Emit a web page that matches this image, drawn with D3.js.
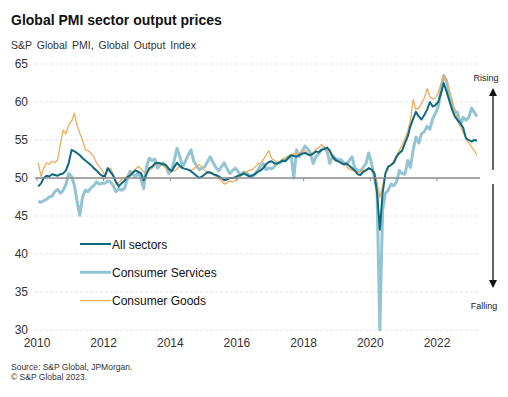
<!DOCTYPE html>
<meta charset="utf-8">
<style>
body { margin: 0; background: #fff; }
svg { font-family: "Liberation Sans", Arial, sans-serif; }
.grid line { stroke: #dcdcdc; stroke-width: 0.8; stroke-dasharray: 3,2; }
.tick-label { font-size: 12px; fill: #333; }
</style>
<body>
<svg width="508" height="397"></svg>
<script src="https://d3js.org/d3.v7.min.js"></script>
<script>
// monthly values, Jan 2010 - Mar 2023
var allSectors = [
  48.9, 49.3, 50.0, 50.3, 50.2, 50.5, 50.4, 50.3, 50.5, 50.6, 51.0, 52.0,
  53.7, 53.5, 53.3, 53.0, 52.6, 52.3, 52.0, 51.7, 51.3, 51.0, 50.6, 50.3,
  50.2, 51.3, 50.8, 50.3, 49.5, 48.9, 49.3, 49.6, 50.1, 50.3, 50.7, 51.0,
  50.8, 50.6, 49.7, 50.5, 51.3, 51.5, 51.9, 52.0, 51.9, 51.8, 51.7, 51.2,
  50.9, 51.5, 52.0, 51.6, 51.3, 51.2, 51.1, 50.9, 50.6, 50.3, 50.0, 50.2,
  50.5, 50.8, 50.7, 50.5, 50.4, 50.2, 50.0, 49.7, 49.8, 50.0, 50.0, 50.1,
  50.3, 50.4, 50.6, 50.4, 50.2, 50.3, 50.5, 50.8, 51.0, 51.3, 51.8, 52.1,
  52.2, 51.9, 51.9, 52.1, 52.3, 52.2, 52.6, 53.0, 52.9, 52.8, 53.0, 53.2,
  53.3, 53.1, 53.0, 53.2, 53.5, 53.4, 53.7, 53.8, 54.0, 53.6, 52.8, 52.4,
  52.2, 52.0, 51.8, 51.9, 51.6, 51.3, 51.0, 50.5, 50.4, 50.8, 51.0, 51.3,
  51.1, 50.6, 48.0, 43.2, 48.0, 50.6, 51.5, 51.7, 52.0, 52.8, 53.3, 53.6,
  54.6, 55.5, 56.8, 57.8, 58.7, 58.1, 57.7, 58.3, 59.0, 60.0, 59.4, 59.6,
  60.0, 61.2, 62.5, 61.4, 60.2, 59.0, 58.1, 57.6, 57.2, 56.6, 55.2, 55.0,
  54.8, 55.0, 54.9
];
var consumerServices = [
  46.9, 46.8, 47.0, 47.2, 47.5, 47.6, 48.2, 48.5, 48.0, 48.4, 49.2, 50.6,
  50.2, 49.0, 47.0, 45.1, 47.5, 48.4, 48.2, 48.7, 49.0, 49.5, 49.2, 49.3,
  49.3, 49.6, 49.5, 49.0, 48.2, 48.6, 48.4, 48.6, 49.8, 50.9, 50.5, 50.2,
  50.8, 49.8, 48.6, 51.5, 52.6, 52.3, 52.5, 51.3, 51.8, 52.0, 51.5, 50.6,
  51.0, 52.4, 53.9, 52.8, 51.5, 52.2, 53.0, 53.7, 52.2, 51.6, 51.1, 51.3,
  51.5, 52.2, 52.8, 52.0, 51.4, 50.9, 51.5, 52.0, 51.2, 50.6, 51.0, 51.3,
  50.8, 50.4, 50.8, 50.6, 50.4, 50.2, 50.5, 51.0, 51.6, 51.9, 51.1, 51.3,
  51.2, 51.5, 51.9, 52.0, 52.2, 52.5, 52.8, 53.0, 50.0, 53.7, 52.8, 53.5,
  54.2, 53.8, 53.3, 51.9, 52.8, 53.2, 53.7, 54.0, 53.5, 51.9, 52.9, 52.6,
  52.4, 52.4, 52.0, 51.8, 52.3, 52.8, 51.3, 51.0, 50.9, 51.4, 51.9, 53.3,
  51.9, 50.0, 48.4, 30.0, 45.8, 48.0, 48.4, 49.2, 49.0, 49.5, 51.0, 50.6,
  50.5, 52.3, 51.4, 53.7, 55.4, 54.6, 55.8, 56.1, 56.8, 56.4, 57.8, 58.5,
  59.4, 61.6, 63.5, 62.8, 61.0, 59.4, 58.8, 58.6, 57.0, 58.0, 57.6, 58.0,
  59.2, 58.6, 58.1
];
var consumerGoods = [
  52.0, 50.2, 51.3, 52.0, 51.8, 52.2, 52.0, 52.4, 54.5, 56.3, 55.8, 57.0,
  57.5, 58.5, 57.0, 55.9, 55.0, 53.7, 53.6, 53.3, 52.8, 52.0, 51.5, 51.0,
  50.4, 51.0, 51.3, 50.5, 49.1, 49.4, 49.8, 50.0, 50.2, 50.5, 50.9, 51.2,
  51.5, 51.2, 50.8, 50.6, 51.0, 51.3, 51.6, 52.0, 51.8, 51.6, 51.3, 51.0,
  51.0, 50.9, 51.2, 51.5, 51.3, 51.2, 51.1, 51.0, 51.2, 51.5, 51.8, 51.4,
  51.0, 50.6, 50.8, 50.6, 50.2, 50.0, 49.6, 49.2, 49.4, 49.6, 49.5, 49.7,
  50.0, 50.3, 50.7, 50.8, 51.0, 51.1, 51.4, 51.8, 52.0, 52.4, 53.0, 53.6,
  52.6, 52.3, 52.0, 52.2, 52.5, 52.6, 52.8, 53.0, 53.2, 53.1, 53.3, 53.6,
  53.6, 53.2, 53.0, 53.3, 53.8, 54.0, 54.4, 54.0, 53.7, 53.3, 52.6, 52.2,
  52.2, 52.0, 51.8, 51.5, 51.2, 51.0, 50.9, 50.7, 50.8, 51.0, 51.1, 51.2,
  51.2, 50.8, 49.5, 47.4, 49.0, 50.6, 51.3, 51.8, 52.3, 53.0, 53.7, 54.3,
  55.2, 56.2, 57.5, 60.3, 59.0, 59.2, 59.8, 60.5, 61.8, 60.7, 60.4, 60.5,
  61.2, 62.5, 63.5, 63.0, 61.6, 60.3, 59.0, 57.5, 56.8, 56.0, 55.2, 54.6,
  54.1, 53.6, 53.0
];
var yTicks = [30, 35, 40, 45, 50, 55, 60, 65];
var xTickYears = [2010, 2012, 2014, 2016, 2018, 2020, 2022];

var series = [
  { name: "Consumer Services", values: consumerServices, color: "#93c4d3", width: 3 },
  { name: "Consumer Goods", values: consumerGoods, color: "#efac5a", width: 1.3 },
  { name: "All sectors", values: allSectors, color: "#0f6a80", width: 2 }
];
var legendOrder = ["All sectors", "Consumer Services", "Consumer Goods"];

var svg = d3.select("svg");

var x = d3.scaleTime()
    .domain([new Date(2010, 0, 1), new Date(2022, 0, 1)])
    .range([37, 437]);
var y = d3.scaleLinear().domain([30, 65]).range([330, 64]);

var gridLeft = 35, gridRight = 480;

// title
svg.append("text").attr("x", 11).attr("y", 25)
    .style("font-size", "14px").style("font-weight", "bold").style("fill", "#111")
    .text("Global PMI sector output prices");
svg.append("text").attr("x", 11).attr("y", 49)
    .style("font-size", "10.5px").style("fill", "#333").style("word-spacing", "2px")
    .text("S&P Global PMI, Global Output Index");

// gridlines
svg.append("g").attr("class", "grid")
  .selectAll("line")
  .data(yTicks.filter(function(d) { return d !== 50; }))
  .enter().append("line")
    .attr("x1", gridLeft).attr("x2", gridRight)
    .attr("y1", function(d) { return y(d); })
    .attr("y2", function(d) { return y(d); });

// y labels
svg.append("g").selectAll("text")
  .data(yTicks)
  .enter().append("text")
    .attr("class", "tick-label")
    .attr("x", 28).attr("y", function(d) { return y(d) + 4; })
    .attr("text-anchor", "end")
    .text(function(d) { return d; });

// x labels
svg.append("g").selectAll("text")
  .data(xTickYears)
  .enter().append("text")
    .attr("class", "tick-label")
    .attr("x", function(d) { return x(new Date(d, 0, 1)); })
    .attr("y", 347)
    .attr("text-anchor", "middle")
    .text(function(d) { return d; });

// lines
var line = d3.line()
    .x(function(d, i) { return x(new Date(2010, i, 15)); })
    .y(function(d) { return y(d); });

svg.append("g").selectAll("path")
  .data(series)
  .enter().append("path")
    .attr("fill", "none")
    .attr("stroke", function(d) { return d.color; })
    .attr("stroke-width", function(d) { return d.width; })
    .attr("stroke-linejoin", "round")
    .attr("d", function(d) { return line(d.values); });

// 50 line with ticks
svg.append("line")
    .attr("x1", gridLeft).attr("x2", gridRight)
    .attr("y1", y(50)).attr("y2", y(50))
    .attr("stroke", "#8a8a8a").attr("stroke-width", 1.3);
svg.append("g").selectAll("line")
  .data(xTickYears)
  .enter().append("line")
    .attr("x1", function(d) { return x(new Date(d, 0, 1)); })
    .attr("x2", function(d) { return x(new Date(d, 0, 1)); })
    .attr("y1", y(50)).attr("y2", y(50) + 3)
    .attr("stroke", "#8a8a8a").attr("stroke-width", 1);

// legend
var byName = {};
series.forEach(function(s) { byName[s.name] = s; });
var legend = svg.append("g").selectAll("g")
  .data(legendOrder)
  .enter().append("g")
    .attr("transform", function(d, i) { return "translate(80," + (244 + i * 28.3) + ")"; });
legend.append("line")
    .attr("x1", 0).attr("x2", 31)
    .attr("stroke", function(d) { return byName[d].color; })
    .attr("stroke-width", function(d) { return byName[d].width; });
legend.append("text")
    .attr("x", 32).attr("y", 4.5)
    .style("font-size", "12px").style("fill", "#111")
    .text(function(d) { return d; });

// rising / falling arrows
svg.append("defs").append("marker")
    .attr("id", "head").attr("viewBox", "0 0 10 10")
    .attr("refX", 5).attr("refY", 5)
    .attr("markerWidth", 8).attr("markerHeight", 8)
    .attr("markerUnits", "userSpaceOnUse")
    .attr("orient", "auto")
  .append("path").attr("d", "M0,0L10,5L0,10Z").attr("fill", "#111");

svg.append("line")
    .attr("x1", 493).attr("x2", 493).attr("y1", 170).attr("y2", 92)
    .attr("stroke", "#111").attr("stroke-width", 1.3)
    .attr("marker-end", "url(#head)");
svg.append("line")
    .attr("x1", 493).attr("x2", 493).attr("y1", 184).attr("y2", 284)
    .attr("stroke", "#111").attr("stroke-width", 1.3)
    .attr("marker-end", "url(#head)");
svg.append("text").attr("x", 486).attr("y", 81).attr("text-anchor", "middle")
    .style("font-size", "9px").style("fill", "#222").text("Rising");
svg.append("text").attr("x", 484).attr("y", 309).attr("text-anchor", "middle")
    .style("font-size", "9px").style("fill", "#222").text("Falling");

// source
svg.append("text").attr("x", 11).attr("y", 370)
    .style("font-size", "8.5px").style("fill", "#333")
    .text("Source: S&P Global, JPMorgan.");
svg.append("text").attr("x", 11).attr("y", 380)
    .style("font-size", "8.5px").style("fill", "#333")
    .text("\u00a9 S&P Global 2023.");
</script>
</body>
